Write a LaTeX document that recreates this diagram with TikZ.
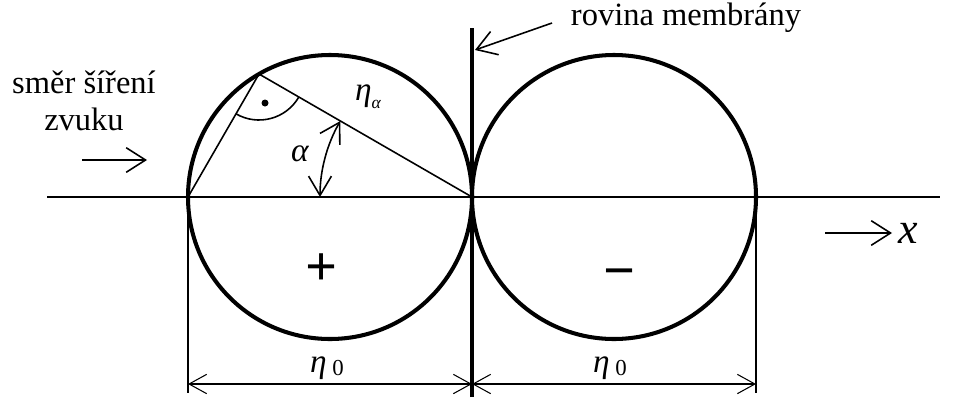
\documentclass[tikz,border=0pt]{standalone}
\usepackage{fontspec}
\setmainfont{Liberation Serif}
\usepackage{tikz}
\usetikzlibrary{calc}
\usetikzlibrary{arrows.meta}
\usetikzlibrary{positioning}

\begin{document}
\begin{tikzpicture}[x=0.02cm,y=0.02cm,
    thickline/.style={line width=2.3pt},
    thinline/.style={line width=0.9pt},
    dimline/.style={line width=0.6pt,{Straight Barb[length=10pt,width=11pt]}-{Straight Barb[length=10pt,width=11pt]}},
    pointer/.style={line width=0.9pt,-{Straight Barb[length=11pt,width=14pt]}},
    lbl/.style={font=\fontsize{18.5}{21}\selectfont,inner sep=0pt}]
    \useasboundingbox (0,0) rectangle (956,397);

    % points on the axis
    \coordinate (A1) at (47,200);
    \coordinate (A2) at (940,200);
    \coordinate (L) at (188,200);
    \coordinate (O1) at (330,200);
    \coordinate (M) at (472,200);
    \coordinate (O2) at (614,200);
    \coordinate (R) at (756,200);
    \coordinate (P) at (259,323);

    \draw[thinline] (A1) -- (A2);

    % circles and membrane
    \draw[thickline] (O1) circle (142);
    \draw[thickline] (O2) circle (142);
    \draw[thickline] (472,0) -- (472,369);

    % triangle with right angle
    \draw[thinline] (L) -- (P) -- (M);
    \draw[thinline] ($(P)+(240:46)$) arc (240:330:46);
    \fill (265,294) circle (3.5);
    \draw[thinline,{Straight Barb[length=11pt,width=13pt]}-{Straight Barb[length=11pt,width=13pt]}]
        ($(M)+(180:152)$) arc (180:150:152);
    \node[lbl,font=\fontsize{19}{21}\selectfont\itshape] (alpha) at (300,243) {α};
    \node[lbl,font=\fontsize{19}{21}\selectfont\itshape] (etaa) at (368,300) {η\raisebox{-0.55ex}{\fontsize{10}{12}\selectfont α}};

    \node[lbl,font=\fontsize{32}{32}\selectfont\bfseries] (plus) at (322,127) {+};
    \node[lbl,font=\fontsize{32}{32}\selectfont\bfseries] (minus) at (620,118) {−};

    % dimensions
    \coordinate (D1) at (188,13);
    \coordinate (D2) at (472,13);
    \coordinate (D3) at (756,13);
    \draw[line width=0.6pt] (L) -- (188,4);
    \draw[line width=0.6pt] (R) -- (756,4);
    \draw[dimline] (D1) -- (D2);
    \draw[dimline] (D2) -- (D3);
    \node[lbl,font=\fontsize{19}{21}\selectfont\itshape] (eta1) at (327,29) {η\,{\upshape\fontsize{13}{14}\selectfont\raisebox{-0.3ex}{0}}};
    \node[lbl,font=\fontsize{19}{21}\selectfont\itshape] (eta2) at (610,29) {η\,{\upshape\fontsize{13}{14}\selectfont\raisebox{-0.3ex}{0}}};

    % texts and pointers
    \node[lbl] (rovina) at (686,379) {rovina membrány};
    \coordinate (rv1) at (552,374);
    \coordinate (rv2) at (475,347);
    \draw[pointer] (rv1) -- (rv2);

    \node[lbl,align=center] (smer) at (84,296) {směr šíření\\zvuku};
    \coordinate (s1) at (82,237);
    \coordinate (s2) at (147,237);
    \draw[pointer] (s1) -- (s2);

    \coordinate (x1) at (825,164);
    \coordinate (x2) at (892,164);
    \draw[pointer] (x1) -- (x2);
    \node[lbl,font=\fontsize{25}{25}\selectfont\itshape,right=6 of x2] (xlab) {x};
\end{tikzpicture}
\end{document}
